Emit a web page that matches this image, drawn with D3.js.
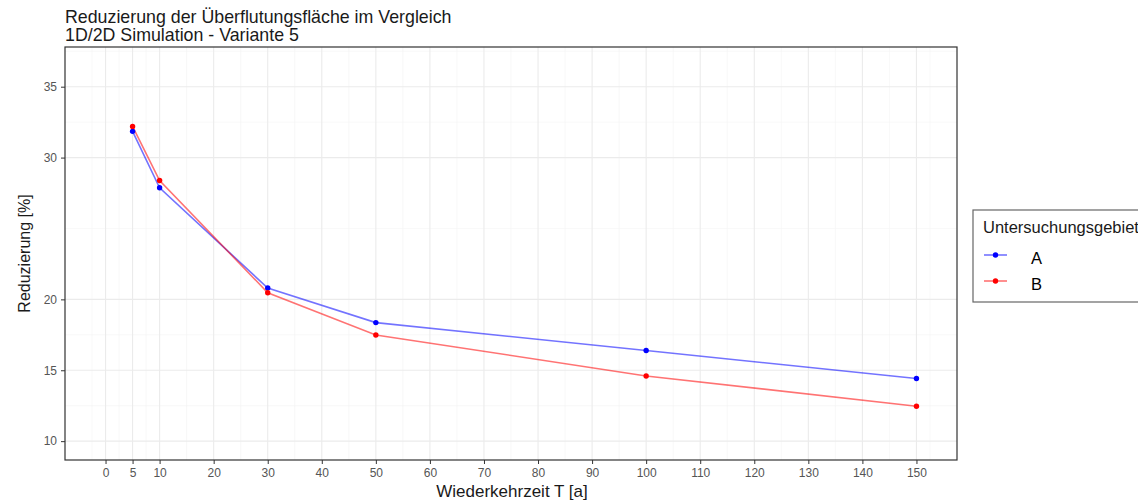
<!DOCTYPE html>
<html lang="de">
<head>
<meta charset="utf-8">
<title>Reduzierung der Überflutungsfläche</title>
<script src="https://d3js.org/d3.v7.min.js"></script>
<style>
    body { margin: 0; background: #fff; }
    svg { display: block; font-family: 'Liberation Sans', Arial, sans-serif; }
    .tick text { fill: #555; font-size: 12px; }
    .tick line { stroke: #333; }
    .grid-major { stroke: #ebebeb; stroke-width: 1.1; }
    .grid-minor { stroke: #f3f3f3; stroke-width: 0.6; }
</style>
</head>
<body>
<svg id="chart" width="1138" height="502"></svg>
<script>
// Wiederkehrzeiten und Reduzierung je Untersuchungsgebiet
var jahre = [5, 10, 30, 50, 100, 150];
var gebietA = [31.85, 27.87, 20.8, 18.36, 16.39, 14.42];
var gebietB = [32.2, 28.38, 20.47, 17.49, 14.6, 12.46];
var xTicks = [0, 5, 10, 20, 30, 40, 50, 60, 70, 80, 90, 100, 110, 120, 130, 140, 150];
var yTicks = [10, 15, 20, 30, 35];
var serien = [
    { name: "A", werte: gebietA, farbe: "#0000ff" },
    { name: "B", werte: gebietB, farbe: "#ff0000" }
];

var rand = { top: 47, right: 181, bottom: 42, left: 65 },
    width = 1138 - rand.left - rand.right,
    height = 502 - rand.top - rand.bottom;

var svg = d3.select("#chart");
var g = svg.append("g").attr("transform", "translate(" + rand.left + "," + rand.top + ")");

// Skalen (ggplot-Erweiterung 5%)
var x = d3.scaleLinear().domain([-7.5, 157.5]).range([0, width]);
var y = d3.scaleLinear().domain([8.67, 37.8]).range([height, 0]);

// Nebenlinien: Mittelpunkte zwischen den Hauptticks (wie ggplot)
function minorBreaks(b, dom) {
    var ext = b.slice();
    var bd = b[1] - b[0];
    ext.unshift(b[0] - bd);
    ext.push(b[b.length - 1] + bd);
    var out = [];
    for (var i = 0; i < ext.length - 1; i++) out.push((ext[i] + ext[i + 1]) / 2);
    return out.filter(function (v) { return v > dom[0] && v < dom[1] && b.indexOf(v) < 0; });
}

var xMinor = minorBreaks(xTicks, x.domain());
var yMinor = minorBreaks(yTicks, y.domain());

g.selectAll(".gx-minor").data(xMinor).enter().append("line")
    .attr("class", "grid-minor")
    .attr("x1", function (d) { return x(d); }).attr("x2", function (d) { return x(d); })
    .attr("y1", 0).attr("y2", height);
g.selectAll(".gy-minor").data(yMinor).enter().append("line")
    .attr("class", "grid-minor")
    .attr("y1", function (d) { return y(d); }).attr("y2", function (d) { return y(d); })
    .attr("x1", 0).attr("x2", width);
g.selectAll(".gx-major").data(xTicks).enter().append("line")
    .attr("class", "grid-major")
    .attr("x1", function (d) { return x(d); }).attr("x2", function (d) { return x(d); })
    .attr("y1", 0).attr("y2", height);
g.selectAll(".gy-major").data(yTicks).enter().append("line")
    .attr("class", "grid-major")
    .attr("y1", function (d) { return y(d); }).attr("y2", function (d) { return y(d); })
    .attr("x1", 0).attr("x2", width);

// Linien und Punkte
var linie = d3.line()
    .x(function (d, i) { return x(jahre[i]); })
    .y(function (d) { return y(d); });

serien.forEach(function (s) {
    g.append("path")
        .datum(s.werte)
        .attr("fill", "none")
        .attr("stroke", s.farbe)
        .attr("stroke-opacity", 0.55)
        .attr("stroke-width", 1.6)
        .attr("d", linie);
});
serien.forEach(function (s) {
    g.selectAll(".pt-" + s.name).data(s.werte).enter().append("circle")
        .attr("cx", function (d, i) { return x(jahre[i]); })
        .attr("cy", function (d) { return y(d); })
        .attr("r", 2.7)
        .attr("fill", s.farbe);
});

// Achsen
var xAxis = g.append("g")
    .attr("transform", "translate(0," + height + ")")
    .call(d3.axisBottom(x).tickValues(xTicks).tickSize(4).tickPadding(4));
xAxis.select(".domain").remove();

var yAxis = g.append("g")
    .call(d3.axisLeft(y).tickValues(yTicks).tickSize(4).tickPadding(4));
yAxis.select(".domain").remove();

// Rahmen
g.append("rect")
    .attr("width", width).attr("height", height)
    .attr("fill", "none").attr("stroke", "#333").attr("stroke-width", 1.2);

// Titel
svg.append("text").attr("x", 65).attr("y", 23)
    .attr("font-size", "17.8px").attr("fill", "#1a1a1a")
    .text("Reduzierung der Überflutungsfläche im Vergleich");
svg.append("text").attr("x", 65).attr("y", 41)
    .attr("font-size", "17.8px").attr("fill", "#1a1a1a")
    .text("1D/2D Simulation - Variante 5");

// Achsentitel
svg.append("text")
    .attr("x", rand.left + width / 2 + 1).attr("y", 497)
    .attr("text-anchor", "middle").attr("font-size", "17px").attr("fill", "#1a1a1a")
    .text("Wiederkehrzeit T [a]");
svg.append("text")
    .attr("transform", "translate(30," + (rand.top + height / 2) + ") rotate(-90)")
    .attr("text-anchor", "middle").attr("font-size", "16px").attr("fill", "#1a1a1a")
    .text("Reduzierung [%]");

// Legende
var leg = svg.append("g").attr("transform", "translate(973,210)");
leg.append("rect")
    .attr("width", 180).attr("height", 92)
    .attr("fill", "#fff").attr("stroke", "#666").attr("stroke-width", 1.2);
leg.append("text").attr("x", 10).attr("y", 23)
    .attr("font-size", "16.5px").attr("fill", "#1a1a1a")
    .text("Untersuchungsgebiet");
serien.forEach(function (s, i) {
    var ky = 45 + i * 26;
    leg.append("line")
        .attr("x1", 11).attr("x2", 34).attr("y1", ky).attr("y2", ky)
        .attr("stroke", s.farbe).attr("stroke-opacity", 0.55).attr("stroke-width", 1.6);
    leg.append("circle").attr("cx", 22.5).attr("cy", ky).attr("r", 2.7).attr("fill", s.farbe);
    leg.append("text").attr("x", 58).attr("y", ky + 9)
        .attr("font-size", "16.5px").attr("fill", "#000")
        .text(s.name);
});
</script>
</body>
</html>
